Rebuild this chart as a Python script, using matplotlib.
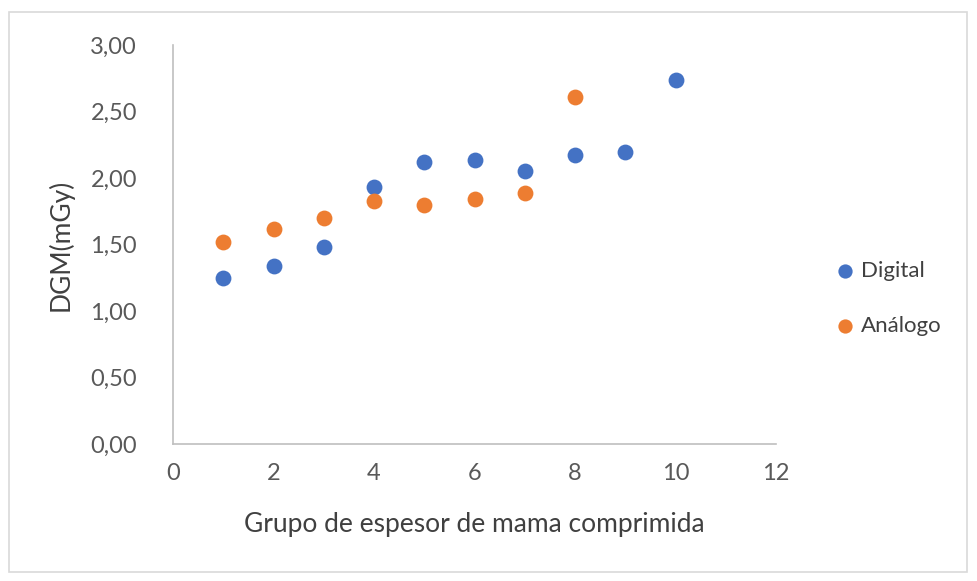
import matplotlib
matplotlib.use("Agg")
import matplotlib.pyplot as plt
from matplotlib.patches import Rectangle
from matplotlib.ticker import FuncFormatter

plt.rcParams['font.family'] = ['Lato', 'DejaVu Sans']

x_digital = [1, 2, 3, 4, 5, 6, 7, 8, 9, 10]
y_digital = [1.25, 1.34, 1.48, 1.93, 2.12, 2.135, 2.05, 2.17, 2.195, 2.74]
x_analogo = [1, 2, 3, 4, 5, 6, 7, 8]
y_analogo = [1.52, 1.62, 1.70, 1.83, 1.80, 1.84, 1.89, 2.61]

W, H = 977, 581
fig = plt.figure(figsize=(W / 100, H / 100), dpi=100)
fig.patches.append(Rectangle((9 / W, 1 - 572 / H), 958 / W, 560 / H,
                             transform=fig.transFigure, fill=False,
                             edgecolor='#d9d9d9', linewidth=1.2))

left, right, top, bottom = 173, 776, 45, 444
ax = fig.add_axes([left / W, 1 - bottom / H, (right - left) / W, (bottom - top) / H])

blue = '#4472C4'
orange = '#ED7D31'
ax.scatter(x_digital, y_digital, s=130, color=blue, label='Digital', zorder=3, linewidths=0)
ax.scatter(x_analogo, y_analogo, s=130, color=orange, label='Análogo', zorder=3, linewidths=0)

ax.set_xlim(0, 12)
ax.set_ylim(0, 3)
ax.set_xticks(range(0, 13, 2))
ax.set_yticks([0, 0.5, 1, 1.5, 2, 2.5, 3])
ax.yaxis.set_major_formatter(FuncFormatter(lambda v, p: f"{v:.2f}".replace('.', ',')))

for s in ['top', 'right']:
    ax.spines[s].set_visible(False)
for s in ['left', 'bottom']:
    ax.spines[s].set_color('#bfbfbf')
    ax.spines[s].set_linewidth(1.2)
ax.tick_params(length=0, labelsize=17, colors='#595959')
ax.tick_params(axis='y', pad=26)
ax.tick_params(axis='x', pad=14)

ax.set_xlabel('Grupo de espesor de mama comprimida', fontsize=19, color='#404040', labelpad=20)
ax.set_ylabel('DGM(mGy)', fontsize=19, color='#404040', labelpad=12)

leg = ax.legend(loc='center left', bbox_to_anchor=(1.1, 0.365), frameon=False,
                fontsize=16, handletextpad=0.3, handlelength=0.8, labelspacing=1.6,
                markerscale=0.9, borderpad=0, borderaxespad=0)
for t in leg.get_texts():
    t.set_color('#404040')

fig.savefig('out.png', dpi=100)
